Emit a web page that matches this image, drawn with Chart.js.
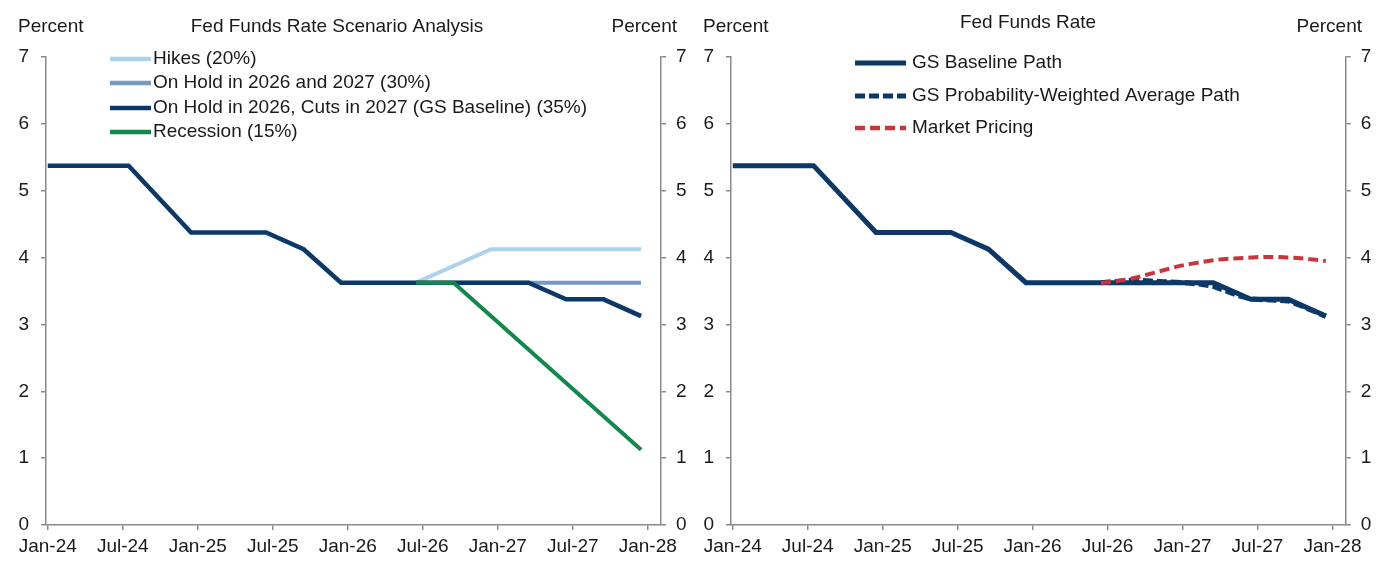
<!DOCTYPE html>
<html>
<head>
<meta charset="utf-8">
<script src="https://cdn.jsdelivr.net/npm/chart.js@4.4.1/dist/chart.umd.min.js"></script>
<style>
    html, body { margin: 0; padding: 0; background: #ffffff; }
    #wrap { position: relative; width: 1389px; height: 569px; }
    #leftChart { position: absolute; left: 0; top: 0; }
    #rightChart { position: absolute; left: 695px; top: 0; }
</style>
</head>
<body>
<div id="wrap">
    <canvas id="leftChart" width="695" height="569"></canvas>
    <canvas id="rightChart" width="694" height="569"></canvas>
</div>
<script>
// =========================
// DATA
// =========================
const tickDates = ["2024-01-01", "2024-07-01", "2025-01-01", "2025-07-01", "2026-01-01", "2026-07-01", "2027-01-01", "2027-07-01", "2028-01-01"];
const tickLabels = ["Jan-24", "Jul-24", "Jan-25", "Jul-25", "Jan-26", "Jul-26", "Jan-27", "Jul-27", "Jan-28"];
const yTicks = [0, 1, 2, 3, 4, 5, 6, 7];

// GS baseline (both panels)
const baselineDates = ["2024-01-01", "2024-07-15", "2024-12-15", "2025-06-15", "2025-09-15", "2025-12-15", "2027-03-15", "2027-06-15", "2027-09-15", "2027-12-15"];
const baselineRates = [5.375, 5.375, 4.375, 4.375, 4.125, 3.625, 3.625, 3.375, 3.375, 3.125];

// scenarios (left panel)
const hikesDates = ["2026-06-15", "2026-12-15", "2027-12-15"];
const hikesRates = [3.625, 4.125, 4.125];

const onHoldDates = ["2026-06-15", "2027-12-15"];
const onHoldRates = [3.625, 3.625];

const recessionDates = ["2026-06-15", "2026-09-15", "2027-12-15"];
const recessionRates = [3.625, 3.625, 1.125];

// monthly paths (right panel)
const pathDates = ["2026-06-15", "2026-07-15", "2026-08-15", "2026-09-15", "2026-10-15", "2026-11-15", "2026-12-15",
    "2027-01-15", "2027-02-15", "2027-03-15", "2027-04-15", "2027-05-15", "2027-06-15", "2027-07-15",
    "2027-08-15", "2027-09-15", "2027-10-15", "2027-11-15", "2027-12-15"];
const weightedRates = [3.625, 3.64, 3.655, 3.66, 3.65, 3.64, 3.63, 3.62, 3.60, 3.57, 3.50, 3.43, 3.38, 3.37, 3.36, 3.35, 3.28, 3.20, 3.12];
const marketRates = [3.62, 3.64, 3.67, 3.71, 3.76, 3.81, 3.86, 3.90, 3.93, 3.96, 3.98, 3.99, 4.00, 4.01, 4.01, 4.00, 3.99, 3.97, 3.95];

// =========================
// HELPERS
// =========================
const FONT = "'Liberation Sans', Arial, sans-serif";
const TEXT = "#1a1a1a";
const GRAY = "#8a8a8a";
const NAVY = "#0b3866";

function toMonths(d) {
    const [y, m, day] = d.split("-").map(Number);
    return (y - 2024) * 12 + (m - 1) + (day - 1) / 30;
}

function points(dates, values) {
    return dates.map((d, i) => ({ x: toMonths(d), y: values[i] }));
}

const tickMonths = tickDates.map(toMonths);

// headers + legend drawn on the canvas
const headerPlugin = {
    id: "header",
    afterDraw(chart, args, opts) {
        const ctx = chart.ctx;
        ctx.save();
        ctx.fillStyle = TEXT;
        ctx.font = "19px " + FONT;
        ctx.textBaseline = "middle";

        ctx.textAlign = "left";
        ctx.fillText("Percent", opts.leftPercentX, 27);
        ctx.textAlign = "right";
        ctx.fillText("Percent", opts.rightPercentX, 27);
        ctx.textAlign = "center";
        ctx.fillText(opts.title, opts.titleX, opts.titleY);

        opts.legend.forEach((item, i) => {
            const y = opts.legendY[i];
            ctx.strokeStyle = item.color;
            ctx.lineWidth = item.width;
            ctx.setLineDash(item.dash || []);
            ctx.beginPath();
            ctx.moveTo(opts.legendX0, y);
            ctx.lineTo(opts.legendX1, y);
            ctx.stroke();
            ctx.setLineDash([]);
            ctx.textAlign = "left";
            ctx.fillText(item.label, opts.legendTextX, y);
        });
        ctx.restore();
    }
};

function yAxis(position, width, padding) {
    return {
        type: "linear",
        position,
        min: 0,
        max: 7,
        afterBuildTicks: s => { s.ticks = yTicks.map(v => ({ value: v })); },
        afterFit: s => { s.width = width; },
        border: { color: GRAY, width: 1.5 },
        grid: { drawOnChartArea: false, color: GRAY, lineWidth: 1.5, tickLength: 5 },
        ticks: { color: TEXT, font: { family: FONT, size: 19 }, padding }
    };
}

function makeChart(id, datasets, leftWidth, rightWidth, header) {
    return new Chart(document.getElementById(id), {
        type: "line",
        data: { datasets },
        options: {
            responsive: false,
            animation: false,
            devicePixelRatio: 1,
            layout: { padding: { top: 57, left: 0, right: 0, bottom: 0 } },
            elements: { point: { radius: 0 } },
            plugins: {
                legend: { display: false },
                tooltip: { enabled: false },
                header
            },
            scales: {
                x: {
                    type: "linear",
                    min: -0.14,
                    max: 49.06,
                    afterBuildTicks: s => { s.ticks = tickMonths.map(v => ({ value: v })); },
                    afterFit: s => { s.height = 44; },
                    border: { color: GRAY, width: 1.5 },
                    grid: { drawOnChartArea: false, color: GRAY, lineWidth: 1.5, tickLength: 5 },
                    ticks: {
                        color: TEXT,
                        font: { family: FONT, size: 19 },
                        padding: 5,
                        maxRotation: 0,
                        autoSkip: false,
                        callback: (v, i) => tickLabels[i]
                    }
                },
                y: yAxis("left", leftWidth, 12),
                y2: yAxis("right", rightWidth, 10)
            }
        },
        plugins: [headerPlugin]
    });
}

// =========================
// LEFT: SCENARIOS
// =========================
const scenarioColors = { hikes: "#aed1ec", hold: "#7898c4", base: NAVY, recession: "#13874c" };

makeChart("leftChart", [
    { label: "Recession (15%)", data: points(recessionDates, recessionRates), borderColor: scenarioColors.recession, borderWidth: 4, order: 0 },
    { label: "On Hold in 2026, Cuts in 2027 (GS Baseline) (35%)", data: points(baselineDates, baselineRates), borderColor: scenarioColors.base, borderWidth: 4.5, order: 1 },
    { label: "On Hold in 2026 and 2027 (30%)", data: points(onHoldDates, onHoldRates), borderColor: scenarioColors.hold, borderWidth: 4, order: 2 },
    { label: "Hikes (20%)", data: points(hikesDates, hikesRates), borderColor: scenarioColors.hikes, borderWidth: 4, order: 3 }
], 46, 34, {
    title: "Fed Funds Rate Scenario Analysis",
    titleX: 337, titleY: 27,
    leftPercentX: 18, rightPercentX: 677,
    legendX0: 110, legendX1: 151, legendTextX: 153,
    legendY: [59, 83, 108, 132],
    legend: [
        { label: "Hikes (20%)", color: scenarioColors.hikes, width: 4.5 },
        { label: "On Hold in 2026 and 2027 (30%)", color: scenarioColors.hold, width: 4.5 },
        { label: "On Hold in 2026, Cuts in 2027 (GS Baseline) (35%)", color: scenarioColors.base, width: 4.5 },
        { label: "Recession (15%)", color: scenarioColors.recession, width: 4.5 }
    ]
});

// =========================
// RIGHT: PATHS
// =========================
const RED = "#c8363c";

makeChart("rightChart", [
    { label: "Market Pricing", data: points(pathDates, marketRates), borderColor: RED, borderWidth: 4, borderDash: [10, 5], cubicInterpolationMode: "monotone", order: 0 },
    { label: "GS Probability-Weighted Average Path", data: points(pathDates, weightedRates), borderColor: NAVY, borderWidth: 5, borderDash: [10, 4], order: 1 },
    { label: "GS Baseline Path", data: points(baselineDates, baselineRates), borderColor: NAVY, borderWidth: 5, order: 2 }
], 36, 43.3, {
    title: "Fed Funds Rate",
    titleX: 333, titleY: 23,
    leftPercentX: 8, rightPercentX: 667,
    legendX0: 160, legendX1: 211, legendTextX: 217,
    legendY: [63, 96, 128],
    legend: [
        { label: "GS Baseline Path", color: NAVY, width: 5 },
        { label: "GS Probability-Weighted Average Path", color: NAVY, width: 5, dash: [10, 4] },
        { label: "Market Pricing", color: RED, width: 4.5, dash: [10, 5] }
    ]
});
</script>
</body>
</html>
